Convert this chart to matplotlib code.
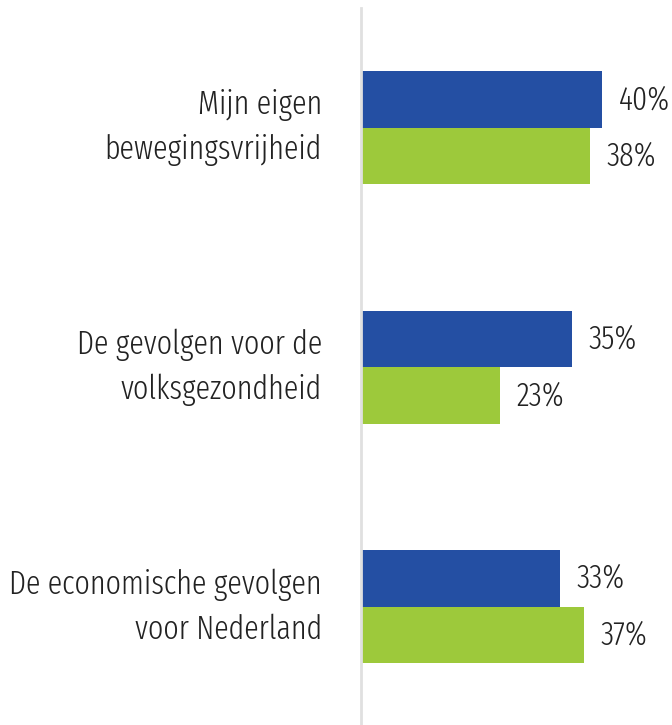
import matplotlib.pyplot as plt
import numpy as np

categories = ['Mijn eigen\nbewegingsvrijheid',
              'De gevolgen voor de\nvolksgezondheid',
              'De economische gevolgen\nvoor Nederland']
blue_vals = [40, 35, 33]
green_vals = [38, 23, 37]

plt.rcParams['font.family'] = ['Fira Sans Extra Condensed', 'DejaVu Sans']
plt.rcParams['font.weight'] = 300

fig = plt.figure(figsize=(6.72, 7.25), dpi=100)
ax = fig.add_axes([361 / 672, 0, 311 / 672, 717 / 725])

y = np.arange(len(categories))
h = 0.236
ax.barh(y - h / 2, blue_vals, height=h, color='#244fa3')
ax.barh(y + h / 2, green_vals, height=h, color='#9dc93b')

for i in range(len(categories)):
    ax.text(blue_vals[i] + 2.8, y[i] - h / 2, '%d%%' % blue_vals[i],
            va='center', ha='left', fontsize=23.5, color='#222222')
    ax.text(green_vals[i] + 2.8, y[i] + h / 2, '%d%%' % green_vals[i],
            va='center', ha='left', fontsize=23.5, color='#222222')
    ax.text(-6.5, y[i], categories[i], va='center', ha='right',
            fontsize=23.5, color='#222222', linespacing=1.5)

ax.set_xlim(0, 311 / 6.03)
ax.set_ylim(2.493, -0.501)
ax.set_xticks([])
ax.set_yticks([])
for s in ['top', 'right', 'bottom']:
    ax.spines[s].set_visible(False)
ax.spines['left'].set_color('#e0e0e0')
ax.spines['left'].set_linewidth(2)

fig.savefig('out.png', dpi=100)
